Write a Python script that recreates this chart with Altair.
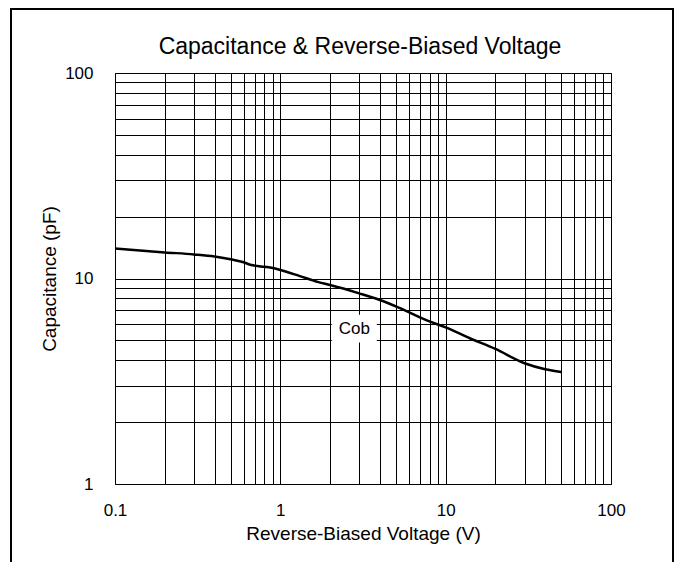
import altair as alt
import pandas as pd

# ---- data ----
voltage = [0.1, 0.2, 0.3, 0.4, 0.5, 0.6, 0.65, 0.7, 0.8, 0.9, 1.0, 1.3, 1.7, 2.0,
           3.0, 4.0, 5.2, 7.9, 10, 14, 20, 30, 40, 50]
capacitance = [14.0, 13.4, 13.1, 12.8, 12.4, 12.0, 11.7, 11.55, 11.4, 11.25, 11.0,
               10.3, 9.6, 9.3, 8.47, 7.86, 7.22, 6.2, 5.78, 5.12, 4.54, 3.87, 3.62, 3.51]

x_grid = [0.1, 0.2, 0.3, 0.4, 0.5, 0.6, 0.7, 0.8, 0.9,
          1, 2, 3, 4, 5, 6, 7, 8, 9,
          10, 20, 30, 40, 50, 60, 70, 80, 90, 100]
y_grid = [1, 2, 3, 4, 5, 6, 7, 8, 9,
          10, 20, 30, 40, 50, 60, 70, 80, 90, 100]
x_labels = ["0.1", "1", "10", "100"]
y_labels = ["1", "10", "100"]

series_name = ["Cob"]
label_x = [2.8]
label_y = [5.7]

chart_title = "Capacitance & Reverse-Biased Voltage"
x_title = "Reverse-Biased Voltage (V)"
y_title = "Capacitance (pF)"

FONT = "Liberation Sans"

df = pd.DataFrame({"v": voltage, "c": capacitance})
lab = pd.DataFrame({"x": label_x, "y": label_y, "t": series_name})
one = pd.DataFrame({"a": [0]})

xscale = alt.Scale(type="log", domain=[0.1, 100], nice=False)
yscale = alt.Scale(type="log", domain=[1, 100], nice=False)


def lab_expr(labels):
    arr = "[" + ",".join("'" + s + "'" for s in labels) + "]"
    return f"indexof({arr}, datum.label) >= 0 ? datum.label : ''"


xaxis = alt.Axis(values=x_grid, format="~g", labelExpr=lab_expr(x_labels),
                 title=x_title, ticks=False, tickSize=0, domain=False,
                 labelPadding=18, titlePadding=6, labelOverlap=False, labelBound=False,
                 labelFlush=False)
yaxis = alt.Axis(values=y_grid, format="~g", labelExpr=lab_expr(y_labels),
                 title=y_title, ticks=False, tickSize=0, domain=False,
                 labelPadding=22, titlePadding=5, labelOverlap=False, labelBound=False,
                 labelFlush=False)

line = alt.Chart(df).mark_line(color="black", strokeWidth=2.5, interpolate="monotone").encode(
    x=alt.X("v:Q", scale=xscale, axis=xaxis),
    y=alt.Y("c:Q", scale=yscale, axis=yaxis),
)

box = alt.Chart(lab).mark_point(
    shape="M-1,-0.62L1,-0.62L1,0.62L-1,0.62Z", filled=True, color="white",
    opacity=1, size=2025, strokeWidth=0,
).encode(x=alt.X("x:Q", scale=xscale), y=alt.Y("y:Q", scale=yscale))

text = alt.Chart(lab).mark_text(font=FONT, fontSize=17, color="black",
                                align="center", baseline="middle").encode(
    x=alt.X("x:Q", scale=xscale), y=alt.Y("y:Q", scale=yscale), text="t:N")

title = alt.Chart(one).mark_text(font=FONT, fontSize=23, color="black",
                                 align="center", baseline="alphabetic").encode(
    x=alt.value(245), y=alt.value(-19), text=alt.value(chart_title))

b_left = alt.Chart(one).mark_rule(color="black", strokeWidth=2).encode(
    x=alt.value(-104), y=alt.value(-64), y2=alt.value(520))
b_top = alt.Chart(one).mark_rule(color="black", strokeWidth=2).encode(
    x=alt.value(-105), x2=alt.value(559), y=alt.value(-64))
b_right = alt.Chart(one).mark_rule(color="black", strokeWidth=2).encode(
    x=alt.value(558), y=alt.value(-64), y2=alt.value(520))

chart = alt.layer(line, box, text, title, b_left, b_top, b_right).properties(
    width=496, height=411,
    padding={"left": 107, "top": 65, "right": 63, "bottom": 78},
    autosize=alt.AutoSizeParams(type="none"),
    background="white",
).configure_view(stroke="black", strokeWidth=1).configure_axis(
    grid=True, gridColor="black", gridWidth=1, gridOpacity=1,
    labelFont=FONT, labelFontSize=17, labelColor="black",
    titleFont=FONT, titleFontSize=19, titleFontWeight="normal", titleColor="black",
)

chart.save("out.html", embed_options={"renderer": "svg", "actions": False})
